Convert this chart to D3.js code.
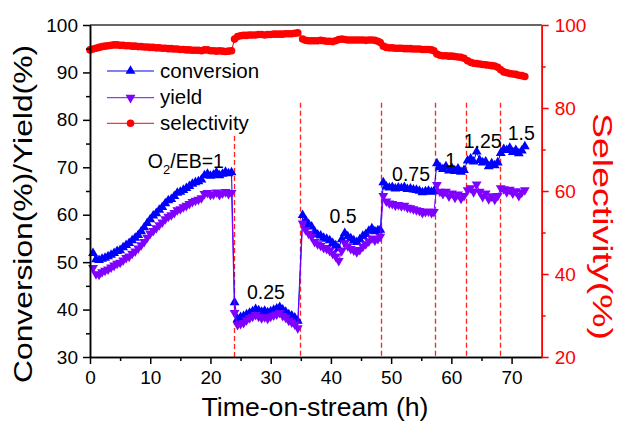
<!DOCTYPE html>
<html>
<head>
<meta charset="utf-8">
<script src="https://cdn.jsdelivr.net/npm/d3@7"></script>
<style>
  body { margin: 0; background: #fff; }
  text { font-family: "Liberation Sans", Arial, sans-serif; }
</style>
</head>
<body>
<script>
// time-on-stream (h)
const time = [
  0.0, 0.5, 1.0, 1.5, 2.0, 2.5, 3.0, 3.5, 4.0, 4.5, 5.0, 5.5, 6.0, 6.5, 7.0, 7.5, 8.0, 8.5, 9.0, 9.5,
  10.0, 10.5, 11.0, 11.5, 12.0, 12.5, 13.0, 13.5, 14.0, 14.5, 15.0, 15.5, 16.0, 16.5, 17.0, 17.5, 18.0, 18.5, 19.0, 19.5,
  20.0, 20.5, 21.0, 21.5, 22.0, 22.5, 23.0, 23.5,
  24.0, 24.5, 25.0, 25.5, 26.0, 26.5, 27.0, 27.5, 28.0, 28.5, 29.0, 29.5, 30.0, 30.5, 31.0, 31.5, 32.0, 32.5, 33.0, 33.5, 34.0, 34.5,
  35.3, 35.8, 36.3, 36.8, 37.3, 37.8, 38.3, 38.8, 39.3, 39.8, 40.3, 40.8, 41.3, 41.8, 42.3, 42.8, 43.3, 43.8, 44.3, 44.8,
  45.3, 45.8, 46.3, 46.8, 47.3, 47.8, 48.2,
  48.7, 49.2, 49.7, 50.2, 50.7, 51.2, 51.7, 52.2, 52.7, 53.2, 53.7, 54.2, 54.7, 55.2, 55.7, 56.2, 56.7, 57.1,
  57.6, 58.1, 58.6, 59.1, 59.6, 60.1, 60.6, 61.1, 61.6, 62.1,
  62.7, 63.2, 63.7, 64.2, 64.7, 65.2, 65.7, 66.2, 66.7, 67.2, 67.7,
  68.2, 68.7, 69.2, 69.7, 70.2, 70.7, 71.2, 71.7, 72.2
];

const conversion = [
  null,
  51.9, 50.6, 50.4, 50.7, 50.9, 51.2, 51.5, 51.9, 52.3, 52.5, 53.1, 53.6, 54.0, 54.6, 55.1, 55.7, 56.5, 57.3, 58.2, 59.0,
  59.8, 60.3, 61.0, 61.6, 62.4, 63.0, 63.3, 63.9, 64.6, 64.8, 65.2, 65.6, 66.0, 66.5, 66.8, 67.0, 67.4, 68.3, 68.6, 68.2,
  68.4, 68.9, 68.3, 68.6, 69.0, 68.7, 68.9,
  41.5, 38.0, 38.4, 38.6, 39.0, 39.3, 39.6, 40.1, 39.8, 39.5, 39.7, 39.4, 39.6, 39.9, 40.2, 40.5, 40.0, 39.5, 39.0, 38.7, 38.3, 37.6,
  59.9, 58.8, 58.0, 57.5, 56.4, 55.8, 55.6, 55.1, 54.9, 54.6, 54.0, 53.5, 52.9, 54.8, 56.1, 55.4, 55.0, 54.6, 54.2, 54.8,
  55.5, 55.9, 56.6, 57.1, 56.5, 56.7, 56.8,
  66.8, 65.9, 65.7, 65.8, 65.5, 65.7, 65.6, 65.8, 65.4, 65.5, 65.3, 65.2, 65.0, 64.7, 64.9, 65.0, 64.8, 64.9,
  70.8, 70.0, 69.6, 70.2, 69.3, 69.8, 69.2, 69.7, 69.0, 69.4,
  71.4, 71.8, 71.2, 73.3, 71.5, 71.0, 71.2, 70.2, 70.8, 70.4, 71.0,
  73.0, 73.8, 73.6, 74.1, 73.2, 73.6, 72.9, 73.5, 74.4
];

const yieldPct = [
  null,
  48.8, 47.5, 47.4, 47.9, 48.2, 48.5, 48.9, 49.3, 49.7, 49.9, 50.4, 50.9, 51.2, 51.8, 52.3, 52.9, 53.6, 54.3, 55.2, 56.0,
  56.6, 57.2, 57.8, 58.4, 59.1, 59.6, 59.9, 60.4, 61.0, 61.2, 61.6, 61.9, 62.3, 62.7, 63.0, 63.2, 63.5, 64.4, 64.6, 64.2,
  64.3, 64.7, 64.2, 64.5, 64.8, 64.4, 64.6,
  39.3, 36.8, 37.0, 37.2, 37.8, 38.2, 38.5, 38.9, 38.5, 38.2, 38.4, 38.1, 38.5, 38.8, 39.0, 39.3, 38.7, 38.3, 37.7, 37.3, 36.9, 36.1,
  58.2, 56.8, 56.0, 55.4, 54.3, 53.8, 53.5, 53.0, 52.8, 52.4, 51.8, 51.2, 50.3, 52.4, 54.0, 53.4, 52.8, 52.5, 52.1, 52.6,
  53.3, 53.8, 54.4, 55.0, 54.6, 54.9, 55.4,
  64.0, 62.8, 62.4, 62.3, 62.0, 62.1, 61.8, 61.9, 61.5, 61.4, 61.2, 61.0, 60.8, 60.4, 60.6, 60.7, 60.4, 60.6,
  66.3, 64.9, 64.4, 64.9, 63.9, 64.5, 63.6, 64.3, 63.4, 64.0,
  65.2, 65.6, 64.8, 66.4, 64.9, 63.8, 64.5, 63.3, 63.9, 63.2, 64.0,
  65.6, 65.4, 64.8, 65.3, 64.5, 65.0, 64.0, 64.7, 65.2
];

const selectivity = [
  94.0,
  94.2, 94.4, 94.6, 94.8, 94.9, 95.0, 95.1, 95.2, 95.2, 95.1, 95.1, 95.0, 95.0, 94.9, 94.9, 94.8, 94.8, 94.7, 94.7, 94.6,
  94.6, 94.5, 94.5, 94.4, 94.4, 94.3, 94.3, 94.2, 94.2, 94.1, 94.1, 94.0, 94.0, 93.9, 93.9, 93.9, 93.8, 94.0, 94.0, 93.8,
  93.8, 93.7, 93.8, 93.7, 93.6, 93.7, 93.8,
  96.6, 97.2, 97.4, 97.5, 97.5, 97.6, 97.6, 97.6, 97.7, 97.7, 97.6, 97.7, 97.7, 97.8, 97.8, 97.8, 97.8, 97.9, 97.9, 97.9, 98.0, 98.1,
  96.6, 96.3, 96.2, 96.2, 96.2, 96.2, 96.3, 96.2, 96.1, 96.1, 96.0, 96.2, 96.5, 96.6, 96.5, 96.4, 96.4, 96.4, 96.4, 96.4,
  96.4, 96.3, 96.4, 96.4, 96.3, 96.1, 95.8,
  94.9, 94.6, 94.5, 94.5, 94.4, 94.4, 94.4, 94.3, 94.3, 94.3, 94.2, 94.2, 94.2, 94.1, 94.1, 94.1, 94.0, 93.8,
  93.0, 92.7, 92.6, 92.6, 92.5, 92.5, 92.4, 92.3, 92.2, 92.0,
  91.4, 91.0, 90.8, 90.7, 90.6, 90.5, 90.4, 90.3, 90.2, 90.1, 89.8,
  89.2, 88.7, 88.5, 88.3, 88.2, 88.1, 87.9, 87.8, 87.6
];

// O2/EB ratio changes
const switchTimes = [23.9, 34.8, 48.4, 57.3, 62.4, 68.0];
const ratioLabels = ['1', '0.25', '0.5', '0.75', '1', '1.25', '1.5'];

const xTicks = [0, 10, 20, 30, 40, 50, 60, 70];
const yLeftTicks = [30, 40, 50, 60, 70, 80, 90, 100];
const yRightTicks = [20, 40, 60, 80, 100];

if (conversion.length !== time.length || yieldPct.length !== time.length || selectivity.length !== time.length) {
  throw new Error('length mismatch ' + time.length + ' ' + conversion.length + ' ' + yieldPct.length + ' ' + selectivity.length);
}

const W = 617, H = 422;
const pLeft = 90, pRight = 541.7, pTop = 25, pBottom = 357;

const svg = d3.select('body').append('svg').attr('width', W).attr('height', H);

const x = d3.scaleLinear().domain([0, 75]).range([pLeft, pRight]);
const yL = d3.scaleLinear().domain([30, 100]).range([pBottom, pTop]);
const yR = d3.scaleLinear().domain([20, 100]).range([pBottom, pTop]);

// dashed markers where the ratio switches
const dashTop = [76.6, 83.6, 83.6, 83.6, 83.6, 83.6];
svg.append('g').selectAll('line')
  .data(switchTimes)
  .join('line')
  .attr('x1', d => Math.round(x(d)) + 0.5).attr('x2', d => Math.round(x(d)) + 0.5)
  .attr('y1', (d, i) => yL(dashTop[i])).attr('y2', pBottom)
  .attr('stroke', '#ff2020').attr('stroke-width', 1.3)
  .attr('stroke-dasharray', '5,3');

const tri = d3.symbol(d3.symbolTriangle, 42);
const pts = arr => time.map((t, i) => ({ t: t, v: arr[i] })).filter(d => d.v != null);

function series(data, scale, color, kind) {
  const g = svg.append('g');
  g.append('path')
    .attr('d', d3.line().x(d => x(d.t)).y(d => scale(d.v))(data))
    .attr('fill', 'none').attr('stroke', color).attr('stroke-width', 1);
  if (kind == 'circle') {
    g.selectAll('circle').data(data).join('circle')
      .attr('cx', d => x(d.t)).attr('cy', d => scale(d.v)).attr('r', 3.8)
      .attr('fill', color);
  } else {
    g.selectAll('path.m').data(data).join('path').attr('class', 'm')
      .attr('d', tri)
      .attr('transform', d => 'translate(' + x(d.t) + ',' + scale(d.v) + ')' + (kind == 'down' ? ' rotate(180)' : ''))
      .attr('fill', color);
  }
}

series(pts(conversion), yL, '#0000ff', 'up');
series(pts(yieldPct), yL, '#8000ff', 'down');
series(pts(selectivity), yR, '#ff0000', 'circle');

// axes
const fontSize = 19;
function styleAxis(g, color) {
  g.select('.domain').attr('stroke', color).attr('stroke-width', 1.5);
  g.selectAll('.tick line').attr('stroke', color).attr('stroke-width', 1.5);
  g.selectAll('.tick text').attr('fill', color).style('font-size', fontSize + 'px')
    .style('font-family', '"Liberation Sans", Arial, sans-serif');
}

svg.append('line').attr('x1', pLeft).attr('x2', pRight).attr('y1', pTop).attr('y2', pTop)
  .attr('stroke', '#333').attr('stroke-width', 1.5);

const gx = svg.append('g').attr('transform', 'translate(0,' + pBottom + ')')
  .call(d3.axisBottom(x).tickValues(xTicks).tickSize(7).tickSizeOuter(0).tickPadding(7));
styleAxis(gx, '#000');
const gxm = svg.append('g').attr('transform', 'translate(0,' + pBottom + ')')
  .call(d3.axisBottom(x).tickValues([5, 15, 25, 35, 45, 55, 65]).tickSize(4).tickSizeOuter(0).tickFormat(''));
styleAxis(gxm, '#000');

const gl = svg.append('g').attr('transform', 'translate(' + pLeft + ',0)')
  .call(d3.axisLeft(yL).tickValues(yLeftTicks).tickSize(7).tickSizeOuter(0).tickPadding(5));
styleAxis(gl, '#000');
const glm = svg.append('g').attr('transform', 'translate(' + pLeft + ',0)')
  .call(d3.axisLeft(yL).tickValues([35, 45, 55, 65, 75, 85, 95]).tickSize(4).tickSizeOuter(0).tickFormat(''));
styleAxis(glm, '#000');

const gr = svg.append('g').attr('transform', 'translate(' + pRight + ',0)')
  .call(d3.axisRight(yR).tickValues(yRightTicks).tickSize(7).tickSizeOuter(0).tickPadding(6));
styleAxis(gr, '#ff0000');
const grm = svg.append('g').attr('transform', 'translate(' + pRight + ',0)')
  .call(d3.axisRight(yR).tickValues([30, 50, 70, 90]).tickSize(4).tickSizeOuter(0).tickFormat(''));
styleAxis(grm, '#ff0000');

// axis titles
svg.append('text').attr('x', 315).attr('y', 416).attr('text-anchor', 'middle')
  .style('font-size', '25px').attr('textLength', 227).attr('lengthAdjust', 'spacingAndGlyphs')
  .text('Time-on-stream (h)');
svg.append('text').attr('transform', 'translate(31.6,214) rotate(-90)').attr('text-anchor', 'middle')
  .style('font-size', '25.5px').attr('textLength', 338).attr('lengthAdjust', 'spacingAndGlyphs')
  .text('Conversion(%)/Yield(%)');
svg.append('text').attr('transform', 'translate(592.5,226.5) rotate(90)').attr('text-anchor', 'middle')
  .attr('fill', '#ff0000')
  .style('font-size', '28.5px').attr('textLength', 227).attr('lengthAdjust', 'spacingAndGlyphs')
  .text('Selectivity(%)');

// ratio labels
const labelPos = [[9.6, 69.85], [29.2, 42.2], [42.0, 58.25], [53.3, 67.2], [59.9, 70.1], [65.2, 74.0], [71.6, 75.75]];
ratioLabels.forEach((lab, i) => {
  const t = svg.append('text')
    .attr('x', x(labelPos[i][0])).attr('y', yL(labelPos[i][1]))
    .style('font-size', '19.5px');
  if (i == 0) {
    t.attr('text-anchor', 'start');
    t.append('tspan').text('O');
    t.append('tspan').attr('dy', 6).style('font-size', '13px').text('2');
    t.append('tspan').attr('dy', -6).text('/EB=' + lab);
  } else {
    t.attr('text-anchor', 'middle').text(lab);
  }
});

// legend
const legend = [
  { name: 'conversion', color: '#0000ff', kind: 'up', y: 71 },
  { name: 'yield', color: '#8000ff', kind: 'down', y: 97.7 },
  { name: 'selectivity', color: '#ff0000', kind: 'circle', y: 123.3 }
];
const lg = svg.append('g');
legend.forEach(d => {
  lg.append('line').attr('x1', 107).attr('x2', 154).attr('y1', d.y).attr('y2', d.y)
    .attr('stroke', d.color).attr('stroke-width', 1);
  if (d.kind == 'circle') {
    lg.append('circle').attr('cx', 130.5).attr('cy', d.y).attr('r', 3.8).attr('fill', d.color);
  } else {
    lg.append('path').attr('d', tri)
      .attr('transform', 'translate(130.5,' + d.y + ')' + (d.kind == 'down' ? ' rotate(180)' : ''))
      .attr('fill', d.color);
  }
  lg.append('text').attr('x', 160).attr('y', d.y + 6.5).style('font-size', '20.5px').text(d.name);
});
</script>
</body>
</html>
